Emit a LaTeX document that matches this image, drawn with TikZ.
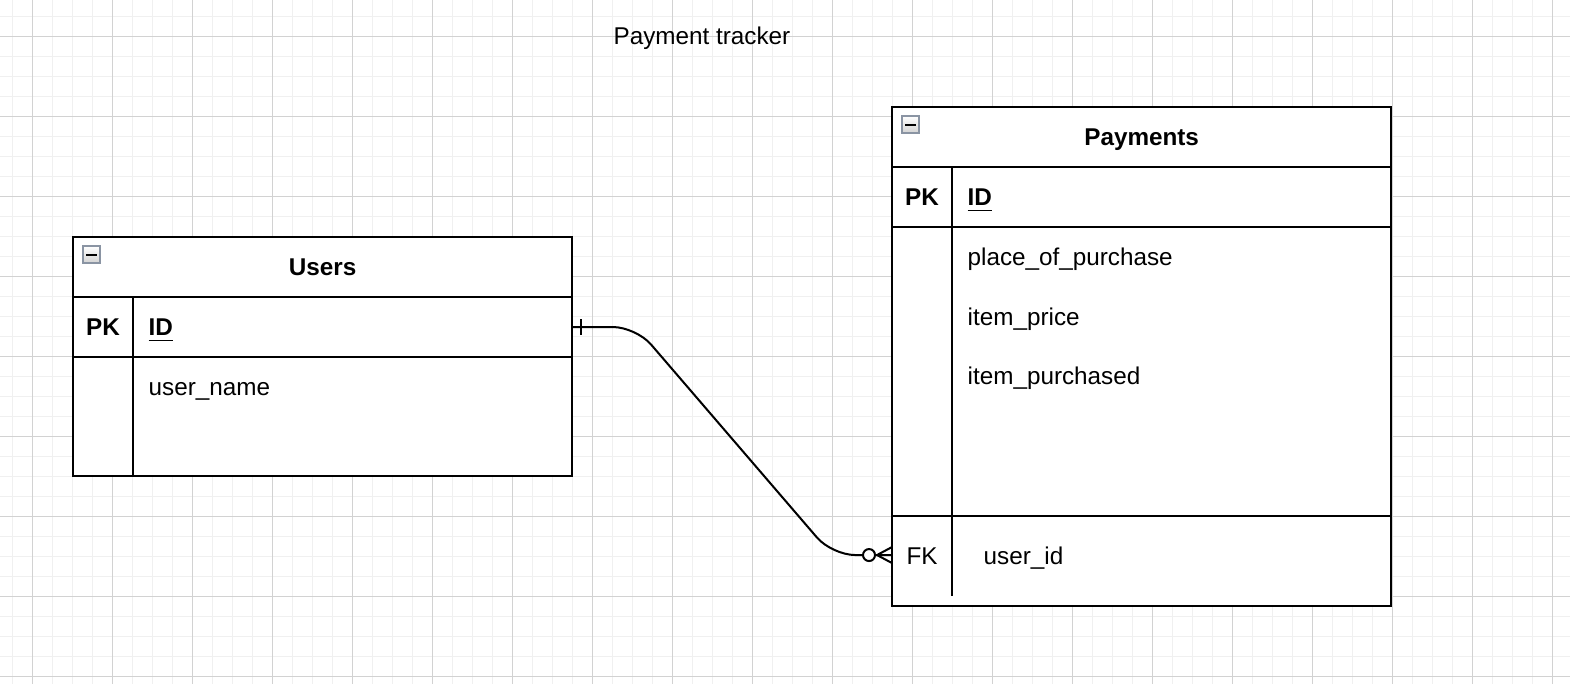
\documentclass[tikz,border=0pt]{standalone}
\usepackage{fontspec}
\setmainfont{Liberation Sans}
\usepackage{tikz}
\usetikzlibrary{calc}

\definecolor{gridmajor}{HTML}{D2D2D2}
\definecolor{gridminor}{HTML}{F0F0F0}
\definecolor{iconedge}{HTML}{8A94A3}
\newcommand{\erfont}{\fontsize{6.9pt}{8.3pt}\selectfont}

\tikzset{
    erline/.style={line width=0.02cm},
    tablebox/.style={draw, erline, minimum width=4.99cm, inner sep=0pt, outer sep=0pt, anchor=north west},
    headbox/.style={tablebox, minimum height=0.6cm, font=\erfont\bfseries, text height=4.95pt, text depth=0pt},
    rowbox/.style={tablebox, minimum height=0.6cm},
    keytxt/.style={inner sep=0pt, font=\erfont\bfseries, text height=4.95pt, text depth=0pt},
    attrtxt/.style={inner sep=0pt, anchor=west, font=\erfont, text height=4.95pt, text depth=0pt},
    minusicon/.style={draw=iconedge, line width=0.015cm, top color=white, bottom color=gray!35}
}

\begin{document}
\begin{tikzpicture}[x=0.01cm,y=-0.01cm]
            \useasboundingbox (0,0) rectangle (1570,684);
            \fill[white] (0,0) rectangle (1570,684);
            % grid
            \begin{scope}
                \clip (0,0) rectangle (1570,684);
                \foreach \gx in {12,32,...,1570}
                    \draw[gridminor, line width=0.01cm] (\gx,0) -- (\gx,684);
                \foreach \gy in {16,36,...,684}
                    \draw[gridminor, line width=0.01cm] (0,\gy) -- (1570,\gy);
                \foreach \gx in {32,112,...,1570}
                    \draw[gridmajor, line width=0.01cm] (\gx,0) -- (\gx,684);
                \foreach \gy in {36,116,...,684}
                    \draw[gridmajor, line width=0.01cm] (0,\gy) -- (1570,\gy);
            \end{scope}
            \node[attrtxt, anchor=center] (title) at (702,36) {Payment tracker};

            % Users
            \node[tablebox, fill=white, minimum height=2.39cm] (users) at (73,237) {};
            \node[headbox] (usershead) at (users.north west) {Users};
            \node[rowbox] (userspk) at (usershead.south west) {};
            \draw[erline] ($(userspk.north west)+(60,0)$) -- ($(users.south west)+(60,0)$);
            \draw[minusicon] (83,246) rectangle (100,263);
            \draw[erline] (86,255) -- (97,255);
            \node[keytxt] (userspkkey) at (103,327) {PK};
            \node[attrtxt, font=\erfont\bfseries] (usersid) at (148,327) {\underline{ID}};
            \node[attrtxt] (usersname) at (148,387) {user\_name};

            % Payments
            \node[tablebox, fill=white, minimum height=4.99cm] (pays) at (892,107) {};
            \node[headbox] (payshead) at (pays.north west) {Payments};
            \node[rowbox] (payspk) at (payshead.south west) {};
            \draw[erline] (892,516) -- (1391,516);
            \draw[erline] ($(payspk.north west)+(60,0)$) -- (952,596);
            \draw[minusicon] (902,116) rectangle (919,133);
            \draw[erline] (905,125) -- (916,125);
            \node[keytxt] (payspkkey) at (922,197) {PK};
            \node[attrtxt, font=\erfont\bfseries] (paysid) at (967,197) {\underline{ID}};
            \node[attrtxt] (paysplace) at (967,257) {place\_of\_purchase};
            \node[attrtxt] (paysprice) at (967,317) {item\_price};
            \node[attrtxt] (paysitem) at (967,376) {item\_purchased};
            \node[rowbox, draw=none, minimum height=0.78cm] (paysfk) at (892,516) {};
            \node[attrtxt, anchor=center] (paysfkkey) at (922,556) {FK};
            \node[attrtxt] (paysuser) at (983,556) {user\_id};

            % relation: one user, many payments
            \coordinate (bendA) at (636,327);
            \coordinate (bendB) at (832,555);
            \draw[erline, rounded corners=0.23cm] (userspk.east) -- (bendA) -- (bendB) -- (paysfk.west);
            \draw[erline] (userspk.east) ++(9,-8) -- ++(0,16);
            \draw[erline] (paysfk.west) ++(-15,0) -- ++(15,-8);
            \draw[erline] (paysfk.west) ++(-15,0) -- ++(15,8);
            \draw[erline, fill=white] ($(paysfk.west)+(-23,0)$) circle (0.06cm);
        \end{tikzpicture}
\end{document}
